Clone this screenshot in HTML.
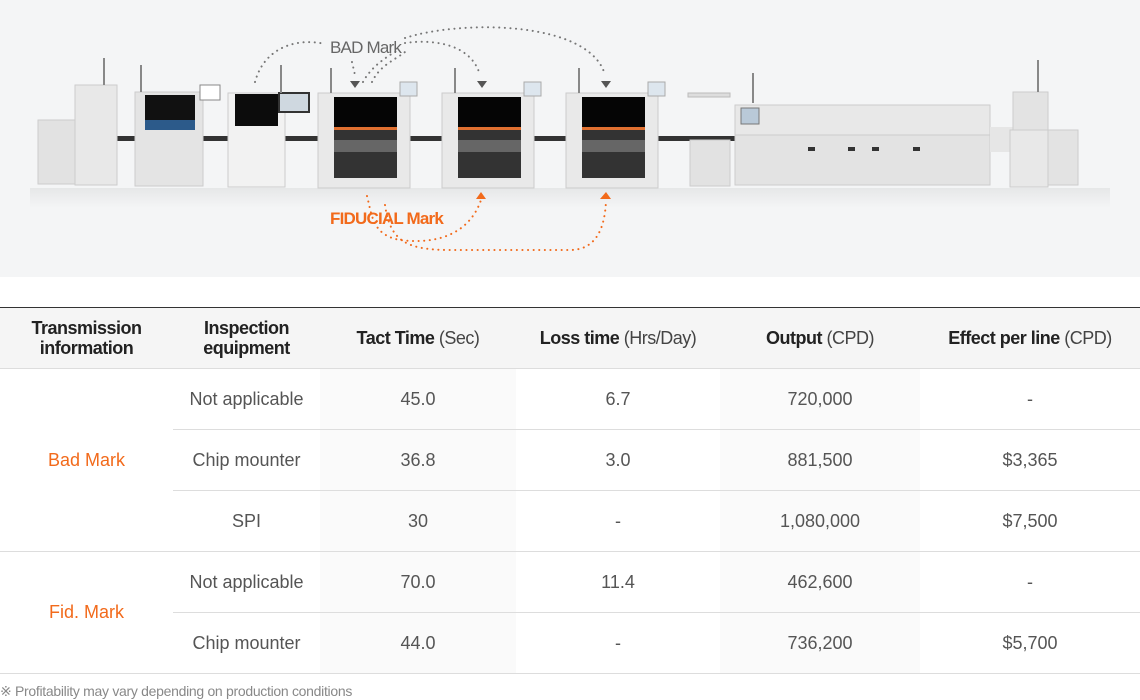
<!DOCTYPE html>
<html><head><meta charset="utf-8"><style>
*{margin:0;padding:0;box-sizing:border-box}
body{width:1140px;height:700px;background:#fff;font-family:"Liberation Sans",sans-serif;color:#555;position:relative;overflow:hidden}
.top{position:absolute;left:0;top:0;width:1140px;height:277px;background:#f4f5f6}
table{position:absolute;left:0;top:307px;width:1140px;border-collapse:collapse;border-top:1px solid #333}
th{background:#f5f5f5;height:61px;font-size:18px;color:#222;font-weight:bold;line-height:20px;border-bottom:1px solid #ddd;letter-spacing:-0.5px}
th span{font-weight:normal;color:#444}
td{height:61px;text-align:center;font-size:18px;color:#555;border-bottom:1px solid #ddd}
td.sh{background:#fafafa}
td.or{color:#f26a1b}
.note{position:absolute;left:0;top:683px;font-size:14px;color:#888;letter-spacing:-0.3px}
</style></head><body>
<div class="top">
<svg width="1140" height="277" viewBox="0 0 1140 277">
<defs><linearGradient id="fl" x1="0" y1="0" x2="0" y2="1"><stop offset="0" stop-color="#e6e7e8"/><stop offset="1" stop-color="#f4f5f6"/></linearGradient></defs>
<rect x="30" y="188" width="1080" height="20" fill="url(#fl)"/>
<rect x="110" y="136" width="630" height="5" fill="#333"/>
<rect x="675" y="136" width="70" height="5" fill="#333"/>
<!-- loader -->
<rect x="38" y="120" width="47" height="64" fill="#e2e2e2" stroke="#ccc"/>
<rect x="75" y="85" width="42" height="100" fill="#e8e8e8" stroke="#ccc"/>
<rect x="103" y="58" width="2" height="27" fill="#888"/>
<!-- printer -->
<rect x="135" y="92" width="68" height="94" fill="#e4e4e4" stroke="#ccc"/>
<rect x="145" y="95" width="50" height="28" fill="#111"/>
<rect x="145" y="120" width="50" height="10" fill="#2c5a8a"/>
<rect x="200" y="85" width="20" height="15" fill="#fff" stroke="#888"/>
<rect x="140" y="65" width="2" height="27" fill="#888"/>
<!-- SPI -->
<rect x="228" y="93" width="57" height="94" fill="#f2f2f2" stroke="#ccc"/>
<rect x="235" y="94" width="43" height="32" fill="#0c0c0c"/>
<rect x="278" y="92" width="32" height="21" fill="#333"/>
<rect x="280" y="94" width="28" height="17" fill="#cfd8e0"/>
<rect x="280" y="65" width="2" height="28" fill="#888"/>
<!-- mounters -->
<g id="m">
<rect x="318" y="93" width="92" height="95" fill="#e9e9e9" stroke="#ccc"/>
<rect x="334" y="97" width="63" height="30" fill="#050505"/>
<rect x="334" y="127" width="63" height="3" fill="#e07030"/>
<rect x="334" y="130" width="63" height="48" fill="#333"/>
<rect x="334" y="140" width="63" height="12" fill="#666"/>
<rect x="400" y="82" width="17" height="14" fill="#dde6ee" stroke="#aaa"/>
<rect x="330" y="68" width="2" height="25" fill="#888"/>
</g>
<use href="#m" x="124"/><use href="#m" x="248"/>
<!-- conveyor -->
<rect x="688" y="93" width="42" height="4" fill="#ddd" stroke="#bbb"/>
<rect x="690" y="140" width="40" height="46" fill="#e2e2e2" stroke="#ccc"/>
<!-- oven -->
<rect x="735" y="105" width="255" height="30" fill="#e8e8e8" stroke="#ccc"/>
<rect x="735" y="135" width="255" height="50" fill="#e3e3e3" stroke="#ccc"/>
<g fill="#333"><rect x="808" y="147" width="7" height="4"/><rect x="848" y="147" width="7" height="4"/><rect x="872" y="147" width="7" height="4"/><rect x="913" y="147" width="7" height="4"/></g>
<rect x="741" y="108" width="18" height="16" fill="#b9c9d8" stroke="#777"/>
<rect x="752" y="73" width="2" height="30" fill="#888"/>
<!-- unloader -->
<rect x="990" y="127" width="25" height="25" fill="#e6e6e6"/>
<rect x="1013" y="92" width="35" height="40" fill="#e3e3e3" stroke="#ccc"/>
<rect x="1010" y="130" width="38" height="57" fill="#e8e8e8" stroke="#ccc"/>
<rect x="1048" y="130" width="30" height="55" fill="#e3e3e3" stroke="#ccc"/>
<rect x="1037" y="60" width="2" height="32" fill="#888"/>
<!-- BAD mark arcs -->
<g fill="none" stroke="#777" stroke-width="2" stroke-dasharray="0.1 5.5" stroke-linecap="round">
<path d="M255 82 C265 45 300 38 325 44"/>
<path d="M405 43 C425 40 470 40 480 75"/>
<path d="M405 38 C460 20 590 20 605 75"/>
<path d="M352 62 L355 75"/>
<path d="M372 82 C380 65 395 60 405 52"/>
<path d="M363 82 C372 65 390 55 398 50"/>
</g>
<g fill="#555"><path d="M350 81 L360 81 L355 88Z"/><path d="M477 81 L487 81 L482 88Z"/><path d="M601 81 L611 81 L606 88Z"/></g>
<text x="330" y="53" font-size="17" fill="#666" font-family="Liberation Sans" letter-spacing="-0.8">BAD Mark</text>
<!-- Fiducial arcs -->
<g fill="none" stroke="#f26a1b" stroke-width="2" stroke-dasharray="0.1 5.5" stroke-linecap="round">
<path d="M367 196 C372 215 372 235 400 240 C440 245 470 232 481 200"/>
<path d="M385 205 C390 240 405 250 450 250 L570 250 C595 250 605 230 606 200"/>
</g>
<g fill="#f26a1b"><path d="M476 199 L486 199 L481 192Z"/><path d="M600 199 L611 199 L606 192Z"/></g>
<text x="330" y="224" font-size="17" font-weight="bold" fill="#f26a1b" font-family="Liberation Sans" letter-spacing="-0.8">FIDUCIAL Mark</text>
</svg>
</div>
<table>
<colgroup><col style="width:173px"><col style="width:147px"><col style="width:196px"><col style="width:204px"><col style="width:200px"><col style="width:220px"></colgroup>
<tr><th>Transmission<br>information</th><th>Inspection<br>equipment</th><th>Tact Time <span>(Sec)</span></th><th>Loss time <span>(Hrs/Day)</span></th><th>Output <span>(CPD)</span></th><th>Effect per line <span>(CPD)</span></th></tr>
<tr><td rowspan="3" class="or">Bad Mark</td><td>Not applicable</td><td class="sh">45.0</td><td>6.7</td><td class="sh">720,000</td><td>-</td></tr>
<tr><td>Chip mounter</td><td class="sh">36.8</td><td>3.0</td><td class="sh">881,500</td><td>$3,365</td></tr>
<tr><td>SPI</td><td class="sh">30</td><td>-</td><td class="sh">1,080,000</td><td>$7,500</td></tr>
<tr><td rowspan="2" class="or">Fid. Mark</td><td>Not applicable</td><td class="sh">70.0</td><td>11.4</td><td class="sh">462,600</td><td>-</td></tr>
<tr><td>Chip mounter</td><td class="sh">44.0</td><td>-</td><td class="sh">736,200</td><td>$5,700</td></tr>
</table>
<div class="note">※ Profitability may vary depending on production conditions</div>
</body></html>
